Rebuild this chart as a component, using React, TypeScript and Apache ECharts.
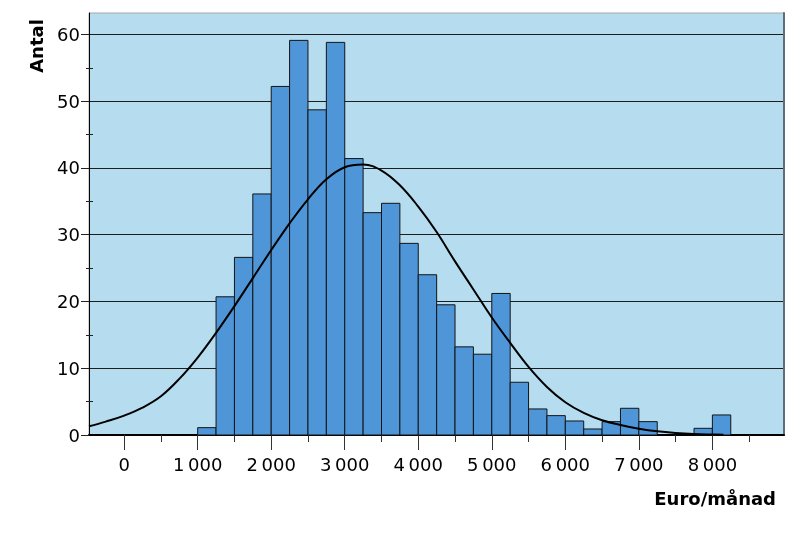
import React, { useEffect, useRef } from "react";
import * as echarts from "echarts";

// Histogram bins (lower edges, width 250 €/month) and counts
const binStarts = [1000, 1250, 1500, 1750, 2000, 2250, 2500, 2750, 3000, 3250, 3500, 3750, 4000, 4250, 4500, 4750, 5000, 5250, 5500, 5750, 6000, 6250, 6500, 6750, 7000, 7250, 7500, 7750, 8000];
const binWidth = 250;
const counts = [1.1, 20.7, 26.6, 36.1, 52.2, 59.1, 48.7, 58.8, 41.4, 33.3, 34.7, 28.7, 24.0, 19.5, 13.2, 12.1, 21.2, 7.9, 3.9, 2.9, 2.1, 0.9, 2.0, 4.0, 2.0, 0, 0, 1.0, 3.0];

// Normal curve, points
const curveX = [-478, -250, 0, 250, 500, 750, 1000, 1250, 1500, 1750, 2000, 2250, 2500, 2750, 3000, 3250, 3500, 3750, 4000, 4250, 4500, 4750, 5000, 5250, 5500, 5750, 6000, 6250, 6500, 6750, 7000, 7250, 7500, 7750, 8000, 8150];
const curveY = [1.3, 2.0, 2.9, 4.1, 5.8, 8.4, 11.6, 15.3, 19.3, 23.5, 27.7, 31.7, 35.3, 38.3, 40.1, 40.5, 39.6, 37.4, 34.2, 30.4, 26.0, 21.8, 17.6, 13.8, 10.2, 7.2, 4.9, 3.3, 2.2, 1.5, 0.95, 0.55, 0.3, 0.15, 0.07, 0.04];

const xMajorTicks = [0, 1000, 2000, 3000, 4000, 5000, 6000, 7000, 8000];
const xMinorTicks = [500, 1500, 2500, 3500, 4500, 5500, 6500, 7500, 8500];
const yMajorTicks = [0, 10, 20, 30, 40, 50, 60];
const yMinorTicks = [5, 15, 25, 35, 45, 55];

const X_MIN = -478;
const X_MAX = 8974;
const Y_MAX = 63.2;
const FONT = "DejaVu Sans";

export default function App() {
  const ref = useRef<HTMLDivElement>(null);
  useEffect(() => {
    document.body.style.margin = "0";
    if (!ref.current) return;
    const chart = echarts.init(ref.current, undefined, { renderer: "svg" });
    const barData = binStarts.map((s, i) => [s, s + binWidth, counts[i]]);
    const lineData = curveX.map((x, i) => [x, curveY[i]]);
    const baseX = { type: "value", min: X_MIN, max: X_MAX, position: "bottom", splitLine: { show: false } };
    const baseY = { type: "value", min: 0, max: Y_MAX, interval: 10, splitLine: { show: false }, axisLabel: { show: false } };
    chart.setOption({
      animation: false,
      grid: {
        left: 89, right: 17, top: 13, bottom: 99,
        show: true, backgroundColor: "#b5ddef", borderColor: "#a8a8a8", borderWidth: 1,
        containLabel: false, outerBoundsMode: "none",
      },
      xAxis: [
        {
          ...baseX,
          axisLine: { show: true, onZero: false, lineStyle: { color: "#000", width: 2 } },
          axisTick: { show: true, customValues: xMajorTicks, length: 15, lineStyle: { color: "#333", width: 1 } },
          axisLabel: {
            show: true, customValues: xMajorTicks, margin: 20, color: "#000",
            fontFamily: FONT, fontSize: 18,
            formatter: (v: number) => (v === 0 ? "0" : `${v / 1000}\u2009000`),
          },
        },
        {
          ...baseX,
          axisLine: { show: false, onZero: false },
          axisTick: { show: true, customValues: xMinorTicks, length: 7, lineStyle: { color: "#333", width: 1 } },
          axisLabel: { show: false },
        },
      ],
      yAxis: [
        {
          ...baseY,
          position: "left",
          axisLine: { show: true, onZero: false, lineStyle: { color: "#000", width: 1 } },
          axisTick: { show: true, customValues: yMajorTicks, length: 8, lineStyle: { color: "#222" } },
          axisLabel: { show: true, customValues: yMajorTicks, margin: 9, color: "#000", fontFamily: FONT, fontSize: 18 },
          splitLine: { show: true, lineStyle: { color: "#1e1e1e", width: 1 } },
        },
        {
          ...baseY,
          position: "left",
          axisLine: { show: false, onZero: false },
          axisTick: { show: true, customValues: yMinorTicks, inside: true, length: 4, lineStyle: { color: "#222" } },
        },
        {
          ...baseY,
          position: "left",
          axisLine: { show: false, onZero: false },
          axisTick: { show: true, customValues: yMinorTicks, length: 3, lineStyle: { color: "#222" } },
        },
        {
          ...baseY,
          position: "right",
          axisLine: { show: true, onZero: false, lineStyle: { color: "#5f6e75", width: 2 } },
          axisTick: { show: false },
        },
      ],
      graphic: [
        {
          type: "text", x: 36, y: 46, rotation: Math.PI / 2,
          style: { text: "Antal", fontFamily: FONT, fontSize: 18, fontWeight: "bold", fill: "#000", align: "center", verticalAlign: "middle" },
        },
        {
          type: "text", right: 25, top: 489,
          style: { text: "Euro/månad", fontFamily: FONT, fontSize: 18, fontWeight: "bold", fill: "#000" },
        },
      ],
      series: [
        {
          type: "custom",
          xAxisIndex: 0, yAxisIndex: 0,
          data: barData,
          encode: { x: [0, 1], y: 2 },
          renderItem: (params: any, api: any) => {
            const x0 = api.value(0), x1 = api.value(1), v = api.value(2);
            if (!v) return null;
            const p0 = api.coord([x0, v]);
            const p1 = api.coord([x1, 0]);
            return {
              type: "rect",
              shape: { x: p0[0], y: p0[1], width: p1[0] - p0[0], height: p1[1] - p0[1] },
              style: { fill: "#4f96d9", stroke: "#141414", lineWidth: 1 },
            };
          },
          z: 2,
        },
        {
          type: "line",
          xAxisIndex: 0, yAxisIndex: 0,
          data: lineData,
          smooth: 0.4,
          showSymbol: false,
          symbol: "none",
          lineStyle: { color: "#000", width: 2 },
          z: 3,
        },
      ],
    });
    return () => chart.dispose();
  }, []);
  return <div ref={ref} style={{ position: "fixed", left: 0, top: 0, width: 801, height: 534 }} />;
}
